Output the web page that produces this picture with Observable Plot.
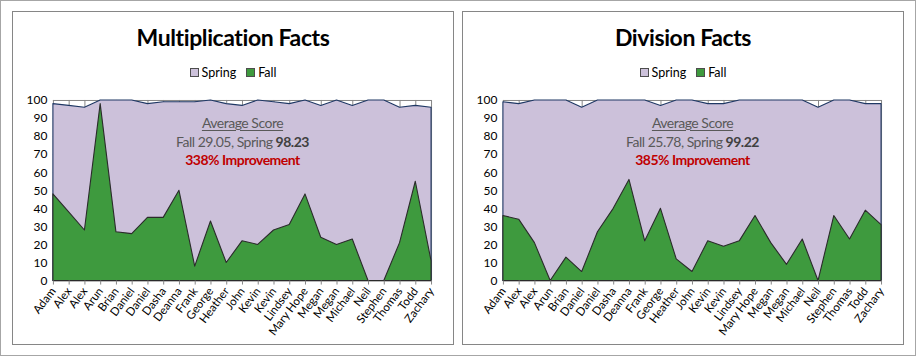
<!DOCTYPE html>
<html>
<head>
<meta charset="utf-8">
<script src="https://cdn.jsdelivr.net/npm/d3@7"></script>
<script src="https://cdn.jsdelivr.net/npm/@observablehq/plot@0.6"></script>
<style>
  html, body { margin: 0; padding: 0; background: #fff; }
  #root { position: relative; width: 916px; height: 356px; background: #fff; font-family: Lato, "Noto Sans", sans-serif; overflow: hidden; }
  .outer { position: absolute; left: 0; top: 0; width: 914px; height: 354px; border: 1px solid #a6a6a6; }
  .panel { position: absolute; top: 11px; width: 440px; height: 332px; border: 1px solid #868686; background: #fff; }
  .title { position: absolute; left: 0; width: 100%; top: 11px; text-align: center; font-weight: 700; font-size: 23px; color: #000; letter-spacing: -0.4px; }
  .legend { position: absolute; left: 0; width: 100%; top: 53px; text-align: center; font-size: 12.5px; color: #000; }
  .legend .sw { display: inline-block; width: 7px; height: 7px; border: 1px solid #4d4d4d; margin-right: 3px; vertical-align: 0px; }
  .legend .item { margin: 0 5px; }
  .note { position: absolute; top: 102px; width: 380px; text-align: center; font-size: 14px; letter-spacing: -0.5px; line-height: 18.5px; color: #595959; }
  .note u { text-decoration-thickness: 1px; text-underline-offset: 2px; }
  .note b.num { color: #404040; }
  .note .imp { color: #c00000; font-weight: 700; }
  .plot { position: absolute; top: 79px; left: 0; }
</style>
</head>
<body>
<div id="root">
  <div class="outer"></div>
</div>
<script>
// ---- data ----
const names = ["Adam","Alex","Alex","Arun","Brian","Daniel","Daniel","Dasha","Deanna","Frank","George","Heather","John","Kevin","Kevin","Lindsey","Mary Hope","Megan","Megan","Michael","Neil","Stephen","Thomas","Todd","Zachary"];

const multFall   = [48,38,28,98,27,26,35,35,50,8,33,10,22,20,28,31,48,24,20,23,0,0,21,55,11];
const multSpring = [98,97,96,100,100,100,98,99,99,99,100,98,97,100,99,98,100,97,100,97,100,100,96,97,96];

const divFall    = [36,34,21,0,13,5,27,40,56,22,40,12,5,22,19,22,36,21,9,23,0,36,23,39,31];
const divSpring  = [99,98,100,100,100,96,100,100,100,100,97,100,100,98,98,100,100,100,100,100,96,100,100,98,98];

const titles    = ["Multiplication Facts", "Division Facts"];
const fallAvg   = ["29.05", "25.78"];
const springAvg = ["98.23", "99.22"];
const improve   = ["338% Improvement", "385% Improvement"];
const yTicks    = [0,10,20,30,40,50,60,70,80,90,100];

const springColor = "#ccc1da";
const fallColor   = "#3e9a3e";

function makePanel(left, k, fall, spring) {
  const root = document.getElementById("root");
  const panel = document.createElement("div");
  panel.className = "panel";
  panel.style.left = left + "px";
  root.appendChild(panel);

  const t = document.createElement("div");
  t.className = "title";
  t.textContent = titles[k];
  panel.appendChild(t);

  const lg = document.createElement("div");
  lg.className = "legend";
  lg.innerHTML = `<span class="item"><span class="sw" style="background:${springColor}"></span>Spring</span><span class="item"><span class="sw" style="background:${fallColor}"></span>Fall</span>`;
  panel.appendChild(lg);

  const rows = names.map((n, i) => ({i, name: n, fall: fall[i], spring: spring[i]}));
  const idx = d3.range(names.length);

  const W = 441, H = 254;
  const mL = 41, mR = 21, mT = 9, mB = 64;
  const chart = Plot.plot({
    width: W, height: H,
    marginLeft: mL, marginRight: mR, marginTop: mT, marginBottom: mB,
    x: {type: "linear", domain: [0, names.length - 1]},
    y: {domain: [0, 100]},
    style: {fontFamily: "Lato, 'Noto Sans', sans-serif", fontSize: "12px", color: "#000", background: "transparent", overflow: "visible"},
    marks: [
      Plot.gridX(idx, {stroke: "#868686", strokeOpacity: 1}),
      Plot.gridY(yTicks, {stroke: "#868686", strokeOpacity: 1}),
      Plot.areaY(rows, {x: "i", y: "spring", fill: springColor, stroke: "#1f3864", strokeWidth: 1.1}),
      Plot.areaY(rows, {x: "i", y: "fall", fill: fallColor, stroke: "#2b2b2b", strokeWidth: 1.1}),
      Plot.axisY({ticks: yTicks, tickSize: 0, tickPadding: 6, fontSize: 12, label: null}),
      Plot.axisX({ticks: idx, tickFormat: i => names[i], tickRotate: -53, tickSize: 4, tickPadding: 4, fontSize: 11.5, stroke: "#868686", label: null})
    ]
  });
  chart.classList.add("plot");
  chart.style.left = "-1px";
  panel.appendChild(chart);

  const note = document.createElement("div");
  note.className = "note";
  const plotCenter = mL + (W - mL - mR) / 2 - 1;
  note.style.left = (plotCenter - 190) + "px";
  note.innerHTML = `<u>Average Score</u><br>Fall ${fallAvg[k]}, Spring <b class="num">${springAvg[k]}</b><br><span class="imp">${improve[k]}</span>`;
  panel.appendChild(note);
}

makePanel(12, 0, multFall, multSpring);
makePanel(462, 1, divFall, divSpring);
</script>
</body>
</html>
